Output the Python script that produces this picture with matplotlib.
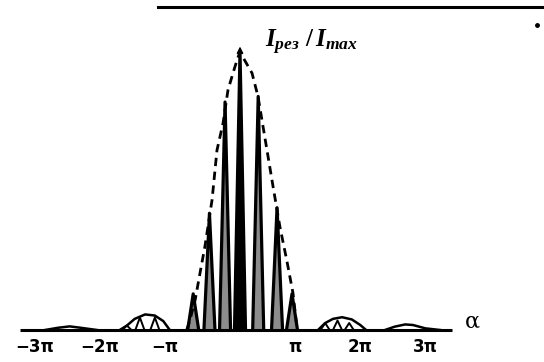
import matplotlib
matplotlib.use("Agg")
import matplotlib.pyplot as plt
import matplotlib.transforms as mtransforms

# alpha values are in units of pi, intensities are I_rez / I_max
# central-lobe envelope (dashed)
env_a = [-0.82, -0.77, -0.69, -0.615, -0.54, -0.43, -0.354, -0.26, -0.185, -0.108,
         -0.04, 0.0, 0.06, 0.185, 0.277, 0.415, 0.51, 0.615, 0.72, 0.815, 0.88]
env_i = [0.0, 0.036, 0.108, 0.205, 0.30, 0.468, 0.647, 0.745, 0.863, 0.924,
         0.975, 1.0, 0.975, 0.924, 0.84, 0.647, 0.514, 0.37, 0.25, 0.133, 0.0]

# interference fringes inside the central lobe
fringe_a = [-0.72, -0.47, -0.23, 0.0, 0.28, 0.57, 0.80]
fringe_i = [0.13, 0.42, 0.82, 1.0, 0.84, 0.44, 0.13]

# side lobes: envelope arcs and the small fringes under them
side_left_a = [-1.85, -1.74, -1.62, -1.46, -1.31, -1.18, -1.08]
side_left_i = [0.0, 0.016, 0.040, 0.056, 0.052, 0.032, 0.0]
side_right_a = [1.20, 1.31, 1.43, 1.57, 1.72, 1.85, 1.94]
side_right_i = [0.0, 0.025, 0.040, 0.046, 0.038, 0.018, 0.0]
side_fringe_a = [-1.74, -1.54, -1.31, 1.31, 1.50, 1.68]
side_fringe_i = [0.016, 0.045, 0.045, 0.025, 0.034, 0.025]

# third lobes (barely visible)
third_left_a = [-3.0, -2.8, -2.62, -2.45, -2.2]
third_left_i = [0.0, 0.008, 0.013, 0.008, 0.0]
third_right_a = [2.23, 2.38, 2.54, 2.66, 2.85, 3.08]
third_right_i = [0.0, 0.012, 0.020, 0.018, 0.006, 0.0]

tick_k = [-3, -2, -1, 1, 2, 3]
tick_labels = ["\u22123\u03c0", "\u22122\u03c0", "\u2212\u03c0", "\u03c0", "2\u03c0", "3\u03c0"]

plt.rcParams["mathtext.fontset"] = "custom"
plt.rcParams["mathtext.it"] = "Liberation Serif:italic:bold"
plt.rcParams["mathtext.rm"] = "Liberation Serif:bold"

fig = plt.figure(figsize=(5.44, 3.62), dpi=100)
ax = fig.add_axes([0, 0, 1, 1])
ax.set_xlim(-240 / 65, 304 / 65)
ax.set_ylim(-32 / 278, 330 / 278)
ax.axis("off")

# baseline (alpha axis)
ax.plot([-3.38, 3.26], [0, 0], color="black", lw=2.2, solid_capstyle="butt")

# main lobe fringes: narrow spikes, the central one solid, the rest shaded
hw = 0.085
for a, h in zip(fringe_a, fringe_i):
    xs = [a - hw, a, a + hw]
    ys = [0, h, 0]
    shade = "black" if a == 0.0 else "0.55"
    ax.fill(xs, ys, color=shade, lw=0)
    ax.plot(xs, ys, color="black", lw=2.3)

# dashed envelope of the central maximum
ax.plot(env_a, env_i, color="black", lw=2.0, linestyle=(0, (3, 2)))

# side lobes
for xa, yi in [(side_left_a, side_left_i), (side_right_a, side_right_i),
               (third_left_a, third_left_i), (third_right_a, third_right_i)]:
    ax.plot(xa, yi, color="black", lw=1.8)
hw2 = 0.07
for a, h in zip(side_fringe_a, side_fringe_i):
    ax.plot([a - hw2, a, a + hw2], [0, h, 0], color="black", lw=1.4)

# vertical axis arrow at alpha = 0
ax.annotate("", xy=(0, 1.03), xytext=(0, 0.0),
            arrowprops=dict(arrowstyle="-|>", color="black", lw=1.2,
                            mutation_scale=9))

# tick labels, nudged a little left as in the original scan
shift = mtransforms.ScaledTranslation(-10 / 100, 0, fig.dpi_scale_trans)
for k, lab in zip(tick_k, tick_labels):
    ax.text(k, -0.062, lab, ha="center", va="center", fontsize=12,
            fontweight="bold", family="DejaVu Sans",
            transform=ax.transData + shift)

ax.text(3.57, 0.03, "\u03b1", ha="center", va="center", fontsize=16,
        family="DejaVu Serif")

ax.text(0.39, 1.035, r"$I_{\mathit{рез}}\ /\,I_{\mathit{max}}$", ha="left",
        va="center", fontsize=18)

# line across the top and the stray dot from the page
ax.plot([-1.26, 4.7], [1.162, 1.162], color="black", lw=2.2)
ax.plot([4.57], [1.097], "o", color="black", markersize=2.5)

fig.savefig("out.png", dpi=100)
